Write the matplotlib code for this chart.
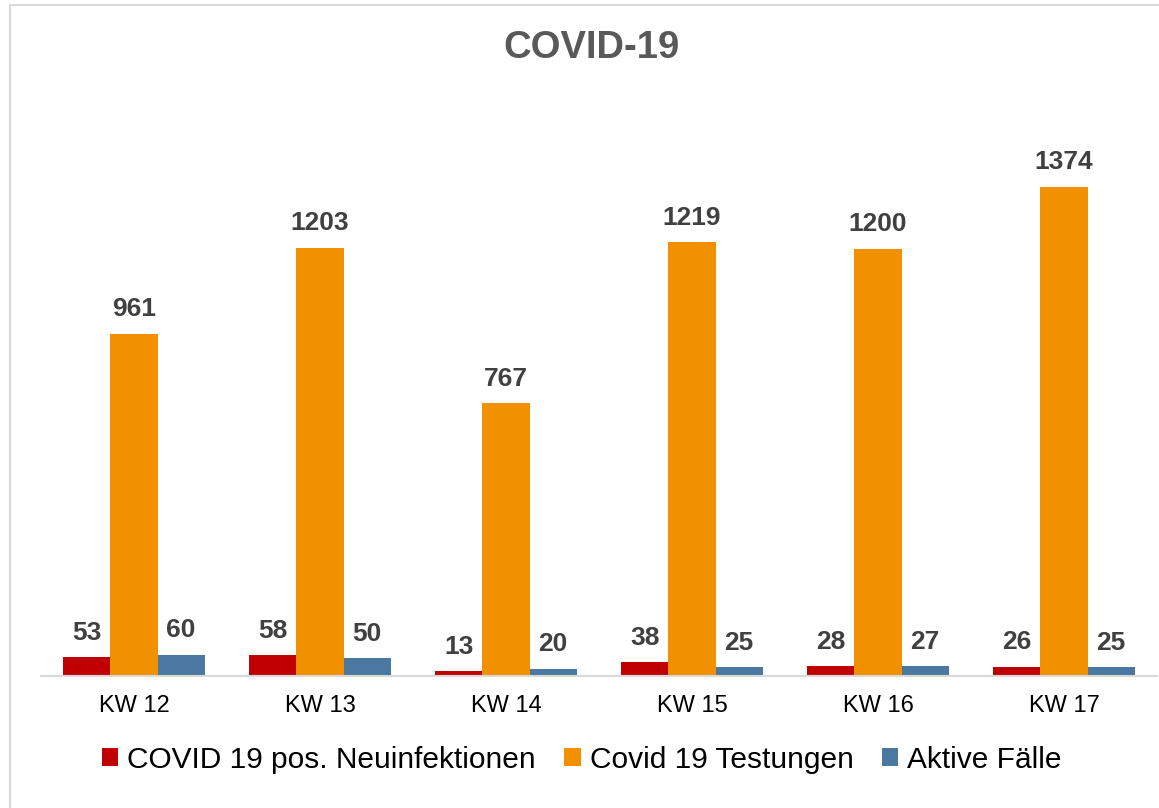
import matplotlib.pyplot as plt
import numpy as np
from matplotlib.patches import Patch, Rectangle

plt.rcParams['font.family'] = ['Liberation Sans', 'DejaVu Sans']

weeks = ['KW 12', 'KW 13', 'KW 14', 'KW 15', 'KW 16', 'KW 17']
neuinfektionen = [53, 58, 13, 38, 28, 26]
testungen = [961, 1203, 767, 1219, 1200, 1374]
aktive = [60, 50, 20, 25, 27, 25]

series_names = ['COVID 19 pos. Neuinfektionen', 'Covid 19 Testungen', 'Aktive Fälle']
colors = ['#C00000', '#F29100', '#4A78A0']

fig = plt.figure(figsize=(11.59, 8.08), dpi=100)
# light frame round the chart
fig.patches.append(Rectangle((10 / 1159, -0.5), 1.5, 1.5 - 5 / 808, transform=fig.transFigure,
                             fill=False, edgecolor='#d9d9d9', linewidth=1.5, zorder=0))
ax = fig.add_axes([41 / 1159, 1 - 676 / 808, 1116 / 1159, 576 / 808])

x = np.arange(len(weeks))
w = 0.253
data = [neuinfektionen, testungen, aktive]
for i in range(3):
    bars = ax.bar(x + (i - 1) * w, data[i], width=w, color=colors[i], zorder=2)
    ax.bar_label(bars, padding=9, fontsize=19, fontweight='bold', color='#404040')

ax.set_xlim(-0.5, len(weeks) - 0.5)
ax.set_ylim(0, 1374 * 576 / 489)
ax.set_yticks([])
ax.set_xticks(x)
ax.set_xticklabels(weeks, fontsize=17)
ax.tick_params(axis='x', length=0, pad=14)
for s in ['top', 'right', 'left']:
    ax.spines[s].set_visible(False)
ax.spines['bottom'].set_color('#d9d9d9')
ax.spines['bottom'].set_linewidth(1.5)

fig.text(0.510, 1 - 48 / 808, 'COVID-19', ha='center', va='center', fontsize=27.5,
         fontweight='bold', color='#595959')

artists = [Patch(facecolor=c) for c in colors]
fig.legend(artists, series_names, loc='center', bbox_to_anchor=(0.502, 1 - 760 / 808), ncol=3,
           frameon=False, fontsize=21.5, handlelength=0.55, handleheight=0.55,
           handletextpad=0.3, columnspacing=0.95)

plt.savefig('out.png', dpi=100)
